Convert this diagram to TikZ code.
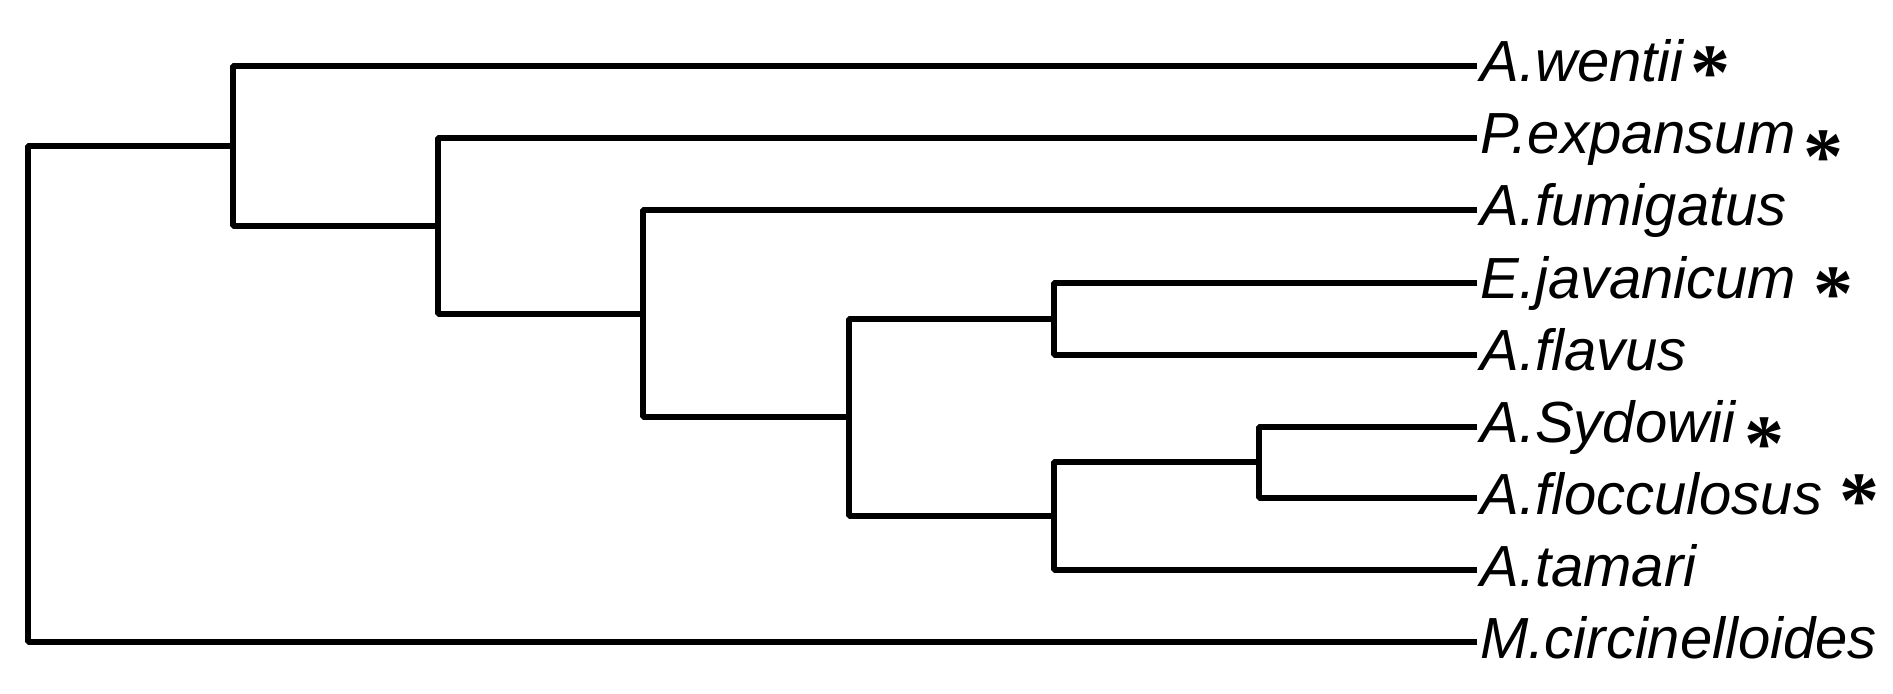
\documentclass[tikz,border=0pt]{standalone}
\usepackage{fontspec}
\setmainfont{Liberation Sans}
\newfontfamily\starfont{Liberation Serif}

\begin{document}
\begin{tikzpicture}[x=0.5pt, y=-0.5pt,
		branch/.style={line width=3pt, line join=bevel},
		taxon/.style={anchor=base west, inner sep=0pt, xshift=1.5pt, yshift=-8pt,
			font=\fontsize{29}{30}\selectfont\itshape},
		starmark/.style={anchor=base, inner sep=0pt, yshift=-19.4pt,
			font=\starfont\bfseries\fontsize{40}{40}\selectfont}]
		\useasboundingbox (0, 0) rectangle (1893, 694);
		
		% leaf tips
		\coordinate (t1) at (1477, 66);
		\coordinate (t2) at (1477, 138);
		\coordinate (t3) at (1477, 210);
		\coordinate (t4) at (1477, 283);
		\coordinate (t5) at (1477, 355);
		\coordinate (t6) at (1477, 427);
		\coordinate (t7) at (1477, 498);
		\coordinate (t8) at (1477, 570);
		\coordinate (t9) at (1477, 642);
		
		% inner nodes
		\coordinate (n0) at (28, 394);
		\coordinate (n1) at (233, 146);
		\coordinate (n2) at (438, 226);
		\coordinate (n3) at (643, 314);
		\coordinate (n4) at (849, 417.5);
		\coordinate (n5) at (1054, 319);
		\coordinate (n6) at (1054, 516);
		\coordinate (n7) at (1259, 462.5);
		
		\draw[branch] (t1) -| (n1) |- (n2);
		\draw[branch] (t2) -| (n2) |- (n3);
		\draw[branch] (t3) -| (n3) |- (n4);
		\draw[branch] (n5) -| (n4) |- (n6);
		\draw[branch] (t4) -| (n5) |- (t5);
		\draw[branch] (n7) -| (n6) |- (t8);
		\draw[branch] (t6) -| (n7) |- (t7);
		\draw[branch] (n1) -| (n0) |- (t9);
		
		\node[taxon] (wentii) at (t1) {A.wentii};
		\node[taxon] (expansum) at (t2) {P.expansum};
		\node[taxon] (fumigatus) at (t3) {A.fumigatus};
		\node[taxon] (javanicum) at (t4) {E.javanicum};
		\node[taxon] (flavus) at (t5) {A.flavus};
		\node[taxon] (sydowii) at (t6) {A.Sydowii};
		\node[taxon] (flocculosus) at (t7) {A.flocculosus};
		\node[taxon] (tamari) at (t8) {A.tamari};
		\node[taxon] (circinelloides) at (t9) {M.circinelloides};
		
		\node[starmark] (s1) at (1710, 61) {*};
		\node[starmark] (s2) at (1823, 145) {*};
		\node[starmark] (s4) at (1833, 282) {*};
		\node[starmark] (s6) at (1764, 432) {*};
		\node[starmark] (s7) at (1859, 489) {*};
	\end{tikzpicture}
\end{document}
